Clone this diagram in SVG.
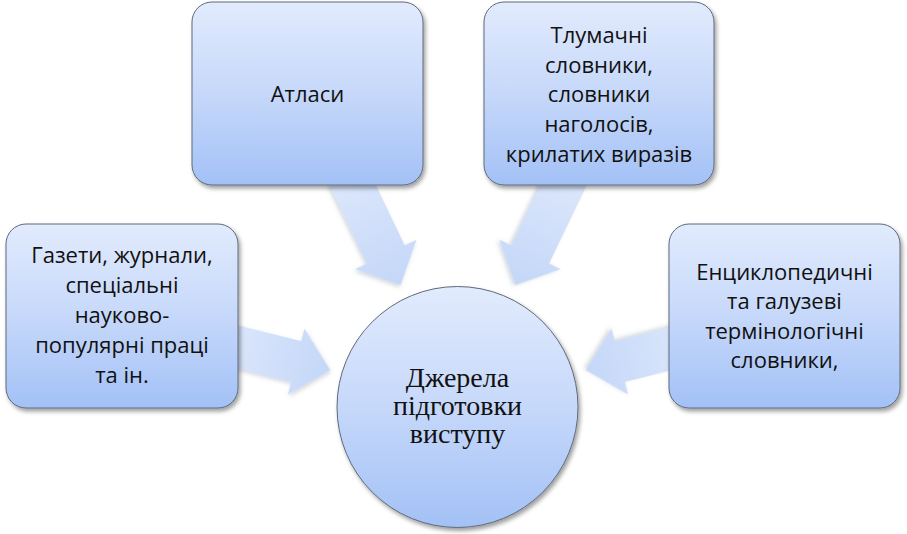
<svg xmlns="http://www.w3.org/2000/svg" width="907" height="534" viewBox="0 0 907 534">
  <defs>
    <linearGradient id="nodeFill" x1="0" y1="0" x2="0" y2="1">
      <stop offset="0" stop-color="#e2ebfd"/>
      <stop offset="0.5" stop-color="#c6d8fa"/>
      <stop offset="1" stop-color="#a3c1f6"/>
    </linearGradient>
    <linearGradient id="arrowFill" x1="0" y1="0" x2="1" y2="0">
      <stop offset="0" stop-color="#dce7fb"/>
      <stop offset="1" stop-color="#c4d7f8"/>
    </linearGradient>
    <filter id="shadow" x="-10%" y="-10%" width="125%" height="125%">
      <feDropShadow dx="2" dy="3" stdDeviation="2.2" flood-color="#000000" flood-opacity="0.38"/>
    </filter>
    <filter id="arrowShadow" x="-20%" y="-20%" width="140%" height="140%">
      <feDropShadow dx="1.5" dy="2" stdDeviation="2" flood-color="#6a7a90" flood-opacity="0.3"/>
    </filter>
  </defs>
  <style>
    .node { fill: url(#nodeFill); stroke: #5e6a7a; stroke-width: 1; filter: url(#shadow); }
    .arrow { fill: url(#arrowFill); filter: url(#arrowShadow); }
    .lbl { font-family: "Open Sans", "Liberation Sans", sans-serif; font-size: 22px; fill: #111111; text-anchor: middle; }
    .center { font-family: "Liberation Serif", "DejaVu Serif", serif; font-size: 28px; fill: #111111; text-anchor: middle; }
  </style>
  <rect width="907" height="534" fill="#ffffff"/>

  <g id="connectors">
    <polygon class="arrow" transform="translate(236,346.5) rotate(14.04)" points="-12,-21 62,-21 62,-34 97,0 62,34 62,21 -12,21"/>
    <polygon class="arrow" transform="translate(680,346.5) rotate(165.96)" points="-12,-21 62,-21 62,-34 97,0 62,34 62,21 -12,21"/>
    <polygon class="arrow" transform="translate(352.5,185) rotate(64.36)" points="-12,-21 77,-21 77,-34 111,0 77,34 77,21 -12,21"/>
    <polygon class="arrow" transform="translate(563.5,185) rotate(115.64)" points="-12,-21 77,-21 77,-34 111,0 77,34 77,21 -12,21"/>
  </g>

  <g id="node-atlasy">
    <rect class="node" x="192" y="2" width="231" height="183" rx="20" ry="20"/>
    <text class="lbl" x="307.5" y="102">Атласи</text>
  </g>

  <g id="node-slovnyky">
    <rect class="node" x="484" y="2" width="230" height="183" rx="20" ry="20"/>
    <text class="lbl" x="599" y="43">Тлумачні</text>
    <text class="lbl" x="599" y="72.7">словники,</text>
    <text class="lbl" x="599" y="102.4">словники</text>
    <text class="lbl" x="599" y="132.1">наголосів,</text>
    <text class="lbl" x="599" y="161.8">крилатих виразів</text>
  </g>

  <g id="node-gazety">
    <rect class="node" x="6" y="224" width="232" height="184" rx="20" ry="20"/>
    <text class="lbl" x="122" y="263">Газети, журнали,</text>
    <text class="lbl" x="122" y="293">спеціальні</text>
    <text class="lbl" x="122" y="323">науково-</text>
    <text class="lbl" x="122" y="353">популярні праці</text>
    <text class="lbl" x="122" y="383">та ін.</text>
  </g>

  <g id="node-entsyklopedychni">
    <rect class="node" x="669" y="224" width="231" height="184" rx="20" ry="20"/>
    <text class="lbl" x="784.5" y="280">Енциклопедичні</text>
    <text class="lbl" x="784.5" y="309.3">та галузеві</text>
    <text class="lbl" x="784.5" y="338.6">термінологічні</text>
    <text class="lbl" x="784.5" y="367.9">словники,</text>
  </g>

  <g id="node-dzherela">
    <circle class="node" cx="457.5" cy="407" r="120.5"/>
    <text class="center" x="457.5" y="387">Джерела</text>
    <text class="center" x="457.5" y="415">підготовки</text>
    <text class="center" x="457.5" y="443">виступу</text>
  </g>
</svg>
